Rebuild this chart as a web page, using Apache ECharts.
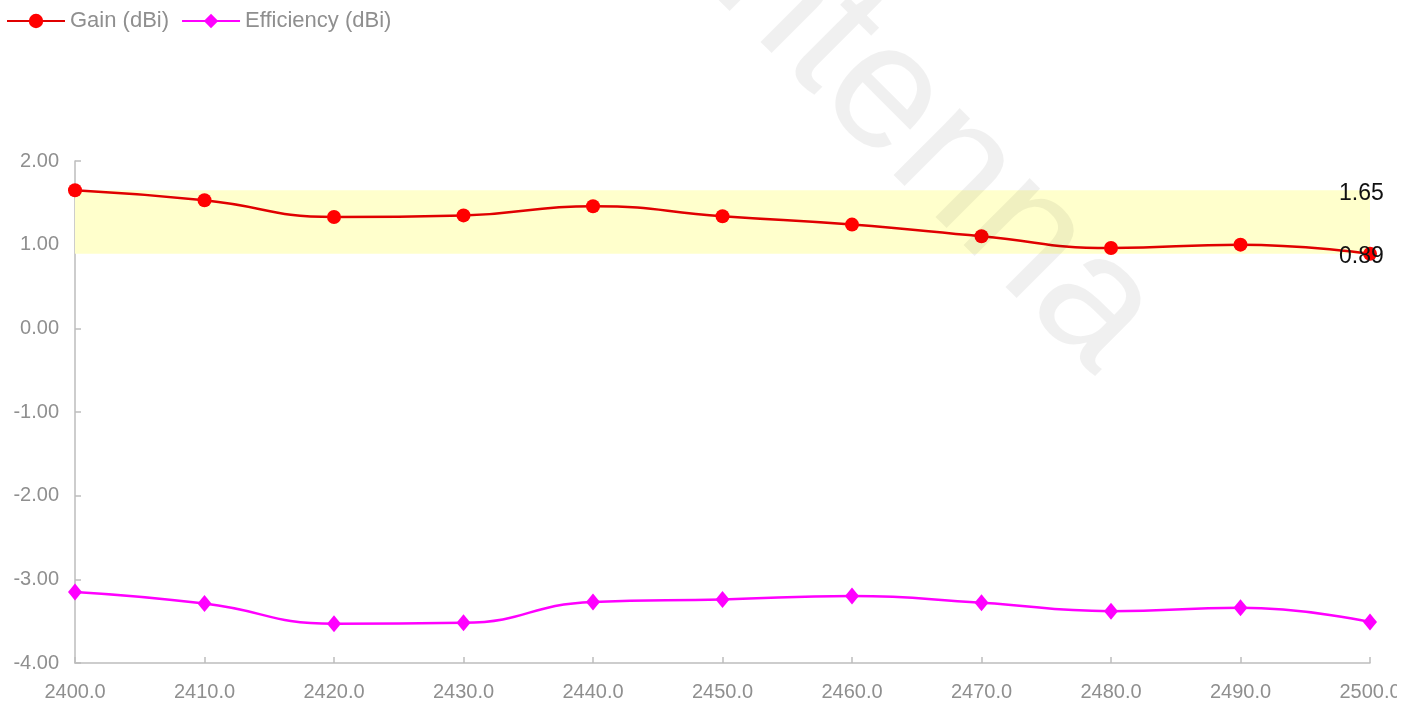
<!DOCTYPE html>
<html>
<head>
<meta charset="utf-8">
<script src="https://cdn.jsdelivr.net/npm/echarts@6/dist/echarts.min.js"></script>
<style>
html,body{margin:0;padding:0;background:#fff;overflow:hidden;}
#c{width:1397px;height:704px;}
</style>
</head>
<body>
<div id="c"></div>
<script>
const freqs = [2400, 2410, 2420, 2430, 2440, 2450, 2460, 2470, 2480, 2490, 2500];
const gain = [1.65, 1.53, 1.33, 1.35, 1.46, 1.34, 1.24, 1.10, 0.96, 1.00, 0.89];
const efficiency = [-3.15, -3.29, -3.53, -3.52, -3.27, -3.24, -3.20, -3.28, -3.38, -3.34, -3.51];
const seriesNames = ['Gain (dBi)', 'Efficiency (dBi)'];
const watermarkText = 'Antenna';

const gMax = Math.max(...gain), gMin = Math.min(...gain);
const pair = arr => freqs.map((f, i) => [f, arr[i]]);
const axisGray = '#bdbdbd';
const labelGray = '#8f8f8f';
const font = 'Liberation Sans, Arial, sans-serif';

const chart = echarts.init(document.getElementById('c'));
chart.setOption({
  animation: false,
  legend: {
    left: 1, top: 5,
    itemWidth: 58, itemHeight: 18, itemGap: 12,
    textStyle: { color: labelGray, fontSize: 22, fontFamily: font },
    data: seriesNames
  },
  grid: { left: 75, right: 27, top: 161, bottom: 41, outerBoundsMode: 'none', containLabel: false },
  xAxis: {
    type: 'value', min: 2400, max: 2500, interval: 10,
    axisLine: { onZero: false, lineStyle: { color: axisGray, width: 1.5 } },
    axisTick: { inside: true, length: 6, lineStyle: { color: axisGray, width: 1.5 } },
    splitLine: { show: false },
    axisLabel: { color: labelGray, fontSize: 20, fontFamily: font, margin: 19,
      formatter: v => v.toFixed(1) }
  },
  yAxis: {
    type: 'value', min: -4, max: 2, interval: 1,
    axisLine: { show: true, lineStyle: { color: axisGray, width: 1.5 } },
    axisTick: { show: true, inside: true, length: 6, lineStyle: { color: axisGray, width: 1.5 } },
    splitLine: { show: false },
    axisLabel: { color: labelGray, fontSize: 20, fontFamily: font, margin: 16,
      formatter: v => v.toFixed(2) }
  },
  series: [
    {
      name: seriesNames[0], type: 'line', smooth: true,
      data: pair(gain),
      symbol: 'circle', symbolSize: 14,
      itemStyle: { color: '#ff0000' },
      lineStyle: { color: '#e00000', width: 2.5 },
      z: 3,
      markArea: {
        silent: true,
        itemStyle: { color: '#ffffcc' },
        data: [[{ xAxis: freqs[0], yAxis: gMax }, { xAxis: freqs[freqs.length - 1], yAxis: gMin }]]
      },
      markLine: {
        silent: true, symbol: 'none',
        lineStyle: { color: 'rgba(0,0,0,0)', width: 0 },
        label: { show: true, position: 'end', distance: 0, offset: [-31, 3], color: '#111', fontSize: 23, fontFamily: font,
          formatter: p => p.value.toFixed(2) },
        data: [{ yAxis: gMax }, { yAxis: gMin }]
      }
    },
    {
      name: seriesNames[1], type: 'line', smooth: true,
      data: pair(efficiency),
      symbol: 'diamond', symbolSize: [14, 17],
      itemStyle: { color: '#ff00ff' },
      lineStyle: { color: '#ff00ff', width: 2.5 },
      z: 3
    }
  ],
  graphic: [{
    type: 'text', x: 895, y: 107, rotation: -Math.PI / 4, z: 100, silent: true,
    style: { text: watermarkText, fontSize: 178, fontFamily: font, fill: 'rgba(0,0,0,0.058)',
      align: 'center', verticalAlign: 'middle' }
  }]
});
</script>
</body>
</html>
